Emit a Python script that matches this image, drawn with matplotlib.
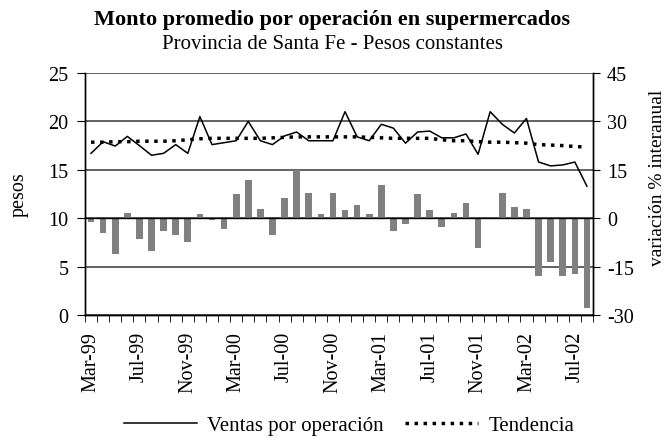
import numpy as np
import matplotlib
matplotlib.use("Agg")
import matplotlib.pyplot as plt
from matplotlib.ticker import FixedLocator

plt.rcParams['font.family'] = ['Liberation Serif', 'DejaVu Serif']
plt.rcParams['axes.unicode_minus'] = False

# monthly data, Mar-99 .. Aug-02
months = ['Mar-99', 'Apr-99', 'May-99', 'Jun-99', 'Jul-99', 'Aug-99', 'Sep-99', 'Oct-99',
          'Nov-99', 'Dec-99', 'Jan-00', 'Feb-00', 'Mar-00', 'Apr-00', 'May-00', 'Jun-00',
          'Jul-00', 'Aug-00', 'Sep-00', 'Oct-00', 'Nov-00', 'Dec-00', 'Jan-01', 'Feb-01',
          'Mar-01', 'Apr-01', 'May-01', 'Jun-01', 'Jul-01', 'Aug-01', 'Sep-01', 'Oct-01',
          'Nov-01', 'Dec-01', 'Jan-02', 'Feb-02', 'Mar-02', 'Apr-02', 'May-02', 'Jun-02',
          'Jul-02', 'Aug-02']

# pesos por operacion (left axis)
ventas = [16.7, 17.9, 17.45, 18.45, 17.5, 16.5, 16.7, 17.6, 16.7, 20.5,
          17.6, 17.8, 18.0, 20.0, 18.0, 17.6, 18.5, 18.9, 18.0, 18.0,
          18.0, 21.0, 18.4, 18.0, 19.7, 19.3, 17.75, 18.9, 19.0, 18.3,
          18.3, 18.7, 16.6, 21.0, 19.7, 18.8, 20.3, 15.8, 15.4, 15.5,
          15.8, 13.3]

tendencia = [17.85, 17.85, 17.9, 17.9, 17.95, 17.95, 17.95, 18.0, 18.1, 18.2,
             18.25, 18.25, 18.25, 18.25, 18.25, 18.3, 18.35, 18.4, 18.4, 18.4,
             18.4, 18.4, 18.4, 18.35, 18.3, 18.25, 18.25, 18.25, 18.25, 18.1,
             18.0, 18.0, 17.9, 17.85, 17.85, 17.8, 17.75, 17.6, 17.55, 17.5,
             17.4, 17.35]

# variacion % interanual (right axis)
variacion = [-1.1, -4.5, -11.1, 1.5, -6.4, -10.1, -3.9, -5.2, -7.3, 1.2,
             -0.5, -3.3, 7.4, 11.8, 2.8, -5.2, 6.2, 14.8, 7.7, 1.2,
             7.7, 2.6, 4.0, 1.2, 10.2, -3.9, -1.9, 7.4, 2.5, -2.7,
             1.5, 4.6, -9.2, 0.0, 7.7, 3.4, 2.8, -17.9, -13.5, -17.9,
             -17.3, -27.8]

x = np.arange(len(months))

fig = plt.figure(figsize=(6.65, 4.39), dpi=100)
ax = fig.add_axes([0.1278, 0.2802, 0.7639, 0.5513])

# bars on the base axes (scale shown on the right)
ax.bar(x, variacion, width=0.55, color='#808080', zorder=3)
ax.axhline(0, color='black', lw=1.0, zorder=4)
ax.set_ylim(-30, 45)
ax.set_yticks([-30, -15, 0, 15, 30, 45])
ax.yaxis.grid(True, color='#555555', lw=1.3, zorder=1)
ax.set_axisbelow(True)
ax.set_xlim(-0.5, len(months) - 0.5)

# x ticks: marks between months, labels every 4 months
ax.xaxis.set_major_locator(FixedLocator(x[::4]))
ax.set_xticklabels(months[::4], rotation=90)
ax.xaxis.set_minor_locator(FixedLocator(np.arange(-0.5, len(months), 1.0)))
ax.tick_params(axis='x', which='major', length=0, pad=11.5, labelsize=14.5)
ax.tick_params(axis='x', which='minor', length=5, direction='out')

# line on twin axes (scale shown on the left)
ax2 = ax.twinx()
ax2.plot(x, ventas, color='black', lw=1.1, label='Ventas por operación', zorder=5)
ax2.plot(x, tendencia, color='black', lw=2.5, linestyle=(0, (1, 1.6)),
         label='Tendencia', zorder=5)
ax2.set_ylim(0, 25)
ax2.set_yticks([0, 5, 10, 15, 20, 25])

# swap sides: bars scale on the right, pesos on the left
ax.yaxis.tick_right()
ax.tick_params(axis='y', direction='out', length=5, labelsize=14.5, pad=5)
ax2.yaxis.tick_left()
ax2.yaxis.set_label_position('left')
ax2.tick_params(axis='y', direction='out', length=6, labelsize=14.5, pad=6)

for a in (ax, ax2):
    a.spines['top'].set_visible(False)
    a.spines['left'].set_linewidth(1.0)
    a.spines['right'].set_linewidth(1.0)
    a.spines['bottom'].set_linewidth(1.0)

ax2.set_ylabel('pesos', fontsize=14.5, labelpad=14)
fig.text(0.988, 0.595, 'variación % interanual', rotation=90, fontsize=14,
         ha='center', va='center')

fig.text(0.5, 0.955, 'Monto promedio por operación en supermercados',
         ha='center', va='center', fontsize=16, fontweight='bold')
fig.text(0.5, 0.898, 'Provincia de Santa Fe - Pesos constantes',
         ha='center', va='center', fontsize=15)

handles, labels = ax2.get_legend_handles_labels()
fig.legend(handles, labels, loc='center', bbox_to_anchor=(0.525, 0.028), ncol=2,
           frameon=False, fontsize=15, handlelength=3.5, columnspacing=1.0,
           handletextpad=0.5)

fig.savefig('out.png', dpi=100)
